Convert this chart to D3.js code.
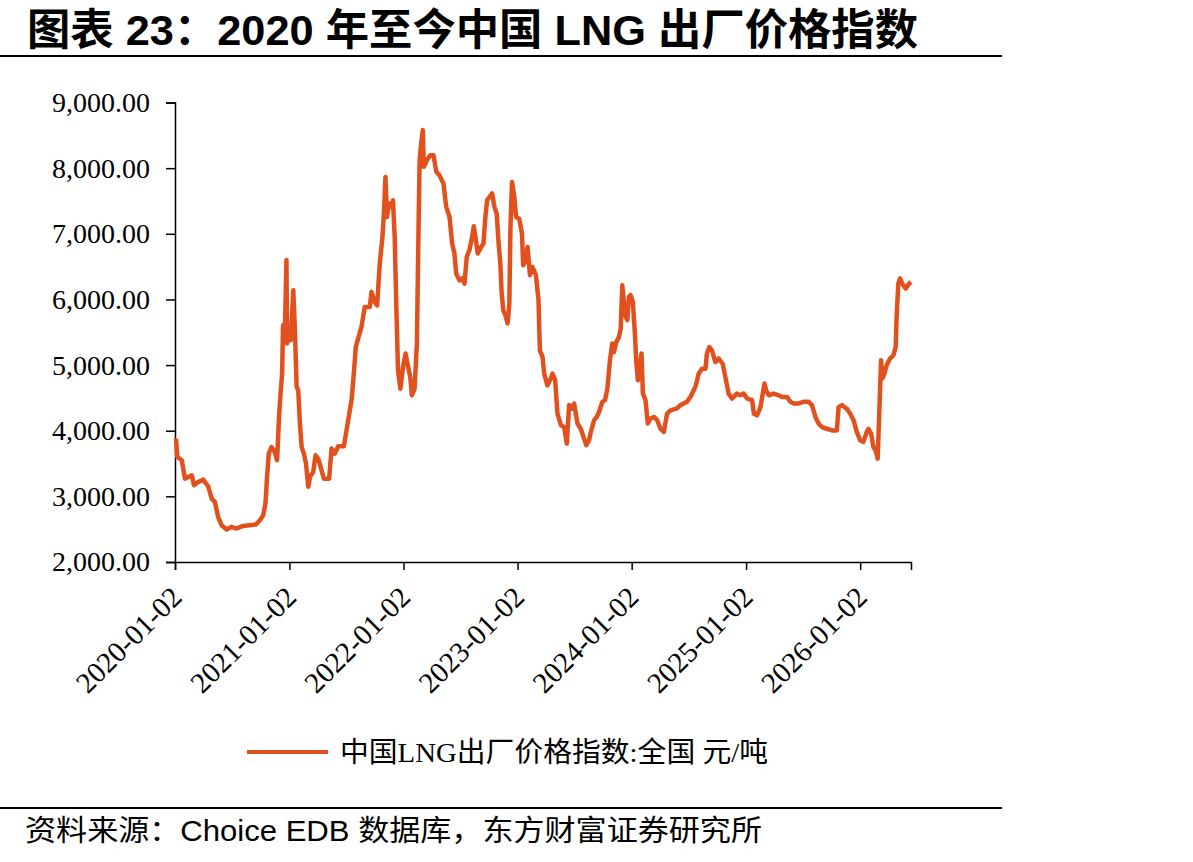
<!DOCTYPE html>
<html>
<head>
<meta charset="utf-8">
<script src="https://cdn.jsdelivr.net/npm/d3@7"></script>
<style>
  body { margin: 0; background: #fff; }
  svg { display: block; }
</style>
</head>
<body>
<div id="chart"></div>
<script>
const years = [
  2020.012, 2020.023, 2020.062, 2020.090, 2020.119, 2020.149, 2020.169, 2020.207, 2020.250, 2020.294,
  2020.324, 2020.352, 2020.381, 2020.411, 2020.455, 2020.498, 2020.542, 2020.600, 2020.658, 2020.711,
  2020.746, 2020.775, 2020.795, 2020.809, 2020.824, 2020.848, 2020.877, 2020.897, 2020.914, 2020.929,
  2020.941, 2020.949, 2020.964, 2020.979, 2020.984, 2021.002, 2021.014, 2021.037, 2021.051, 2021.066,
  2021.080, 2021.095, 2021.110, 2021.130, 2021.148, 2021.168, 2021.183, 2021.211, 2021.232, 2021.255,
  2021.276, 2021.305, 2021.351, 2021.372, 2021.401, 2021.430, 2021.480, 2021.503, 2021.532, 2021.547,
  2021.567, 2021.584, 2021.613, 2021.634, 2021.663, 2021.707, 2021.722, 2021.750, 2021.771, 2021.794,
  2021.818, 2021.832, 2021.844, 2021.858, 2021.875, 2021.896, 2021.910, 2021.925, 2021.940, 2021.954,
  2021.975, 2021.998, 2022.021, 2022.041, 2022.062, 2022.076, 2022.100, 2022.120, 2022.129, 2022.144,
  2022.158, 2022.172, 2022.181, 2022.207, 2022.237, 2022.266, 2022.290, 2022.318, 2022.353, 2022.377,
  2022.406, 2022.429, 2022.449, 2022.464, 2022.493, 2022.517, 2022.537, 2022.557, 2022.580, 2022.604,
  2022.618, 2022.633, 2022.653, 2022.683, 2022.703, 2022.720, 2022.735, 2022.755, 2022.779, 2022.799,
  2022.819, 2022.836, 2022.851, 2022.863, 2022.877, 2022.895, 2022.915, 2022.930, 2022.939, 2022.953,
  2022.974, 2022.989, 2023.017, 2023.041, 2023.052, 2023.076, 2023.090, 2023.111, 2023.133, 2023.163,
  2023.186, 2023.198, 2023.221, 2023.236, 2023.264, 2023.294, 2023.308, 2023.332, 2023.352, 2023.382,
  2023.410, 2023.434, 2023.454, 2023.478, 2023.498, 2023.527, 2023.556, 2023.585, 2023.605, 2023.629,
  2023.644, 2023.673, 2023.696, 2023.716, 2023.745, 2023.769, 2023.789, 2023.812, 2023.832, 2023.847,
  2023.867, 2023.891, 2023.906, 2023.920, 2023.935, 2023.950, 2023.964, 2023.978, 2023.993, 2024.013,
  2024.031, 2024.042, 2024.057, 2024.072, 2024.089, 2024.101, 2024.124, 2024.144, 2024.168, 2024.197,
  2024.226, 2024.255, 2024.284, 2024.313, 2024.343, 2024.400, 2024.430, 2024.488, 2024.517, 2024.561,
  2024.590, 2024.619, 2024.649, 2024.662, 2024.683, 2024.706, 2024.736, 2024.765, 2024.800, 2024.823,
  2024.852, 2024.881, 2024.925, 2024.954, 2024.983, 2025.012, 2025.056, 2025.071, 2025.099, 2025.129,
  2025.149, 2025.164, 2025.178, 2025.202, 2025.245, 2025.289, 2025.318, 2025.361, 2025.391, 2025.420,
  2025.464, 2025.507, 2025.551, 2025.580, 2025.610, 2025.638, 2025.667, 2025.711, 2025.755, 2025.798,
  2025.813, 2025.842, 2025.886, 2025.915, 2025.944, 2025.973, 2026.003, 2026.031, 2026.060, 2026.075,
  2026.099, 2026.119, 2026.139, 2026.156, 2026.169, 2026.186, 2026.197, 2026.215, 2026.235, 2026.265,
  2026.294, 2026.314, 2026.322, 2026.337, 2026.352, 2026.372, 2026.401, 2026.431, 2026.448
];
const prices = [
  3880, 3600, 3550, 3270, 3295, 3320, 3170, 3220, 3255, 3150,
  2965, 2915, 2685, 2560, 2495, 2535, 2510, 2550, 2560, 2570,
  2635, 2710, 2890, 3295, 3650, 3750, 3675, 3550, 4210, 4615,
  4870, 5605, 5430, 6600, 5330, 5480, 5380, 6140, 5530, 4670,
  4615, 4110, 3750, 3650, 3500, 3145, 3295, 3370, 3625, 3575,
  3450, 3270, 3270, 3730, 3650, 3765, 3765, 4005, 4310, 4465,
  4870, 5275, 5455, 5580, 5885, 5885, 6115, 5960, 5910, 6545,
  6950, 7360, 7865, 7255, 7460, 7410, 7510, 6950, 5835, 4920,
  4640, 4970, 5175, 4995, 4820, 4540, 4640, 5330, 6445, 8120,
  8375, 8580, 8020, 8120, 8195, 8195, 7945, 7890, 7765, 7410,
  7255, 6850, 6700, 6395, 6290, 6320, 6240, 6650, 6750, 6950,
  7115, 6950, 6700, 6800, 6850, 7255, 7510, 7560, 7615, 7410,
  7310, 6850, 6545, 6090, 5835, 5760, 5635, 5940, 7055, 7790,
  7550, 7255, 7230, 7005, 6520, 6600, 6800, 6370, 6495, 6370,
  5990, 5225, 5125, 4870, 4690, 4795, 4870, 4770, 4260, 4085,
  4055, 3805, 4390, 4335, 4415, 4110, 4030, 3880, 3780, 3855,
  3980, 4160, 4210, 4285, 4440, 4465, 4640, 5075, 5330, 5200,
  5350, 5430, 5555, 6215, 5940, 5735, 5685, 6040, 6065, 5960,
  5480, 5075, 4770, 4970, 5175, 4565, 4465, 4110, 4185, 4210,
  4160, 4030, 3980, 4260, 4310, 4340, 4390, 4440, 4515, 4670,
  4870, 4945, 4945, 5175, 5275, 5225, 5045, 5100, 5020, 4820,
  4565, 4490, 4565, 4540, 4565, 4490, 4465, 4260, 4235, 4360,
  4565, 4720, 4615, 4540, 4565, 4540, 4515, 4515, 4440, 4415,
  4415, 4440, 4440, 4390, 4210, 4110, 4055, 4030, 4005, 4005,
  4360, 4390, 4335, 4260, 4160, 3980, 3855, 3830, 3980, 4030,
  3955, 3750, 3700, 3575, 4210, 5075, 4795, 4870, 5000, 5100,
  5150, 5275, 5735, 6240, 6320, 6240, 6165, 6240, 6265
];
const yTicks = [2000, 3000, 4000, 5000, 6000, 7000, 8000, 9000];
const xTickLabels = ["2020-01-02", "2021-01-02", "2022-01-02", "2023-01-02", "2024-01-02", "2025-01-02", "2026-01-02"];

const W = 1193, H = 862;
const lineColor = "#e2501e";
const serif = "'Liberation Serif', 'Times New Roman', 'Noto Sans CJK SC', serif";
const cjkSans = "'Liberation Sans', Arial, 'Noto Sans CJK SC', sans-serif";

const parseDay = d3.timeParse("%Y-%m-%d");
function yearToDate(t) {
    const yr = Math.floor(t);
    return new Date(new Date(yr, 0, 1).getTime() + (t - yr) * 365.25 * 86400000);
}

const data = years.map((t, i) => ({ date: yearToDate(t), value: prices[i] }));

const svg = d3.select("#chart").append("svg")
    .attr("width", W)
    .attr("height", H);

// title + rules
svg.append("text")
    .attr("x", 27)
    .attr("y", 45)
    .attr("textLength", 891)
    .attr("lengthAdjust", "spacingAndGlyphs")
    .style("font-family", cjkSans)
    .style("font-weight", "bold")
    .style("font-size", "43px")
    .text("图表 23：2020 年至今中国 LNG 出厂价格指数");

svg.append("line").attr("x1", 0).attr("x2", 1002).attr("y1", 56).attr("y2", 56)
    .attr("stroke", "#000").attr("stroke-width", 2);
svg.append("line").attr("x1", 0).attr("x2", 1002).attr("y1", 808).attr("y2", 808)
    .attr("stroke", "#000").attr("stroke-width", 2);

svg.append("text")
    .attr("x", 25)
    .attr("y", 841)
    .attr("textLength", 737)
    .attr("lengthAdjust", "spacingAndGlyphs")
    .style("font-family", cjkSans)
    .style("font-size", "29px")
    .text("资料来源：Choice EDB 数据库，东方财富证券研究所");

// plot
const plotLeft = 175, plotRight = 911, plotTop = 102.5, plotBottom = 562;

const x = d3.scaleTime()
    .domain([parseDay("2020-01-02"), data[data.length - 1].date])
    .range([plotLeft, plotRight]);

const y = d3.scaleLinear()
    .domain([2000, 9000])
    .range([plotBottom, plotTop]);

const yAxis = svg.append("g")
    .attr("transform", `translate(${plotLeft},0)`)
    .call(d3.axisLeft(y).tickValues(yTicks).tickSize(9).tickPadding(16)
        .tickFormat(d3.format(",.2f")));

yAxis.selectAll("text")
    .style("font-family", serif)
    .style("font-size", "28px")
    .attr("fill", "#000");

const xAxis = svg.append("g")
    .attr("transform", `translate(0,${plotBottom})`)
    .call(d3.axisBottom(x).tickValues(xTickLabels.map(parseDay)).tickSize(8)
        .tickFormat(d3.timeFormat("%Y-%m-%d")));

xAxis.selectAll("text")
    .style("font-family", serif)
    .style("font-size", "29px")
    .attr("fill", "#000")
    .attr("text-anchor", "end")
    .attr("dy", 0)
    .attr("y", 0)
    .attr("transform", "translate(8,37) rotate(-45)");

[yAxis, xAxis].forEach(a => {
    a.select(".domain").attr("stroke", "#000").attr("stroke-width", 1.5);
    a.selectAll(".tick line").attr("stroke", "#000").attr("stroke-width", 1.5);
});

const line = d3.line()
    .x(d => x(d.date))
    .y(d => y(d.value));

svg.append("path")
    .datum(data)
    .attr("fill", "none")
    .attr("stroke", lineColor)
    .attr("stroke-width", 4.5)
    .attr("stroke-linejoin", "round")
    .attr("d", line);

// legend
const legend = svg.append("g").attr("transform", "translate(247,752)");
legend.append("line")
    .attr("x1", 0).attr("x2", 81)
    .attr("stroke", lineColor)
    .attr("stroke-width", 4);
legend.append("text")
    .attr("x", 93)
    .attr("y", 10)
    .attr("textLength", 428)
    .attr("lengthAdjust", "spacingAndGlyphs")
    .style("font-family", serif)
    .style("font-size", "28px")
    .text("中国LNG出厂价格指数:全国 元/吨");
</script>
</body>
</html>
